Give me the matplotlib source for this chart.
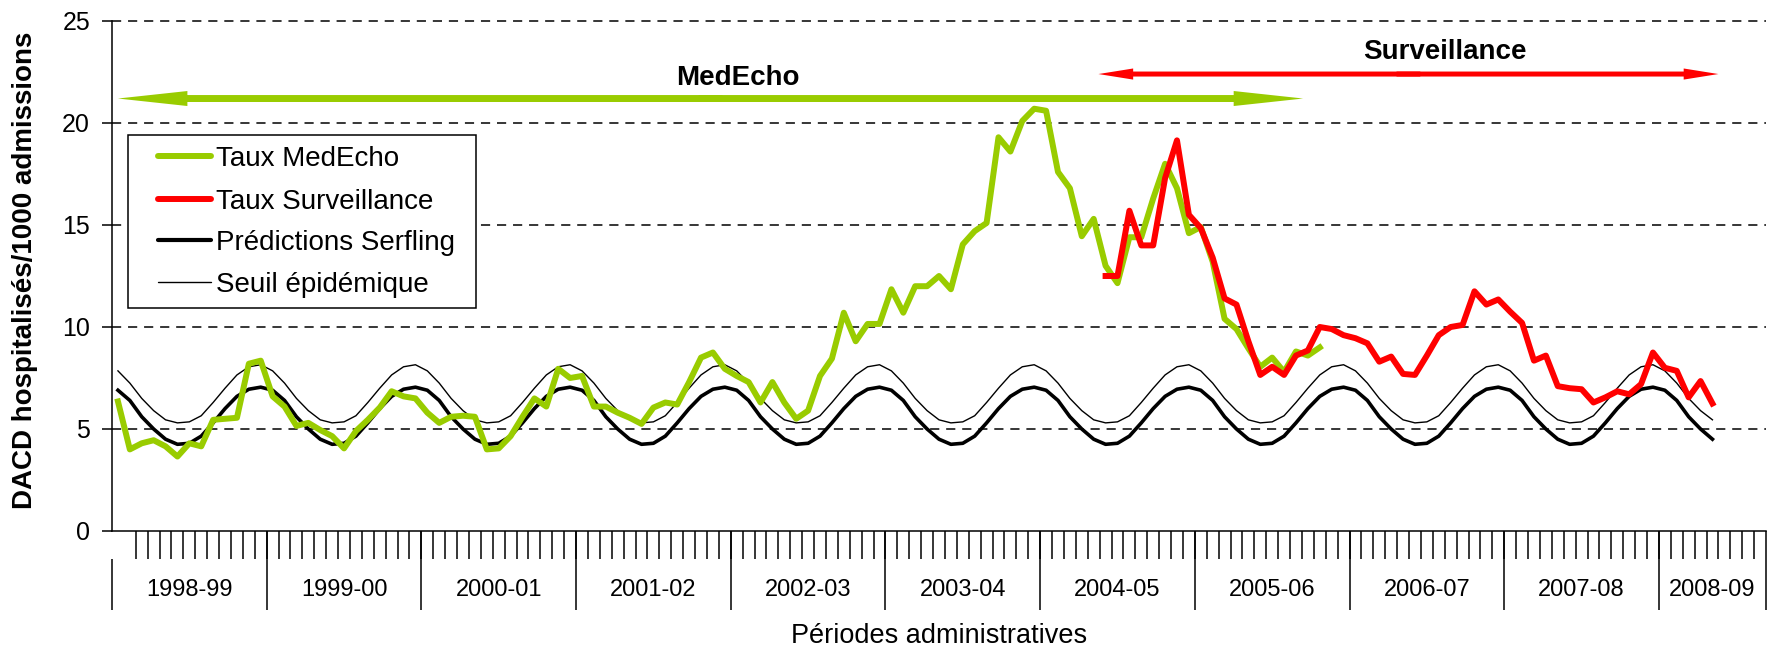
import numpy as np
import matplotlib
matplotlib.use('Agg')
import matplotlib.pyplot as plt
from matplotlib.patches import FancyArrowPatch, ArrowStyle, Rectangle
from matplotlib.lines import Line2D

plt.rcParams['font.family'] = ['Liberation Sans', 'DejaVu Sans']

# administrative years, 13 periods each (2008-09 partial: 9 periods on axis)
YEARS = ['1998-99', '1999-00', '2000-01', '2001-02', '2002-03', '2003-04',
         '2004-05', '2005-06', '2006-07', '2007-08', '2008-09']
PERIODS_PER_YEAR = 13
N_PERIODS = 139

# MedEcho rate, from period 0 (1998-99 P1)
MEDECHO_START = 0
medecho = [6.35, 4.0, 4.3, 4.45, 4.15, 3.65, 4.3, 4.15, 5.45, 5.5, 5.55, 8.2, 8.35,
           6.6, 6.1, 5.15, 5.3, 4.95, 4.65, 4.05, 4.9, 5.45, 6.05, 6.85, 6.6, 6.5,
           5.8, 5.3, 5.6, 5.65, 5.6, 4.0, 4.05, 4.65, 5.6, 6.5, 6.1, 7.95, 7.5,
           7.6, 6.1, 6.1, 5.8, 5.55, 5.25, 6.05, 6.3, 6.2, 7.3, 8.5, 8.75, 7.95,
           7.6, 7.3, 6.3, 7.3, 6.3, 5.5, 5.9, 7.6, 8.45, 10.7, 9.3, 10.15, 10.15,
           11.85, 10.7, 12.0, 12.0, 12.5, 11.85, 14.05, 14.7, 15.1,
           19.3, 18.6, 20.1, 20.7, 20.6, 17.6, 16.8, 14.45, 15.3, 13.0, 12.15,
           14.4, 14.4, 16.3, 18.0, 16.8, 14.6, 14.9, 13.2, 10.4, 9.9, 8.95, 8.05,
           8.5, 7.8, 8.8, 8.6, 9.0]

# Surveillance rate, from period 83 (2004-05 P6)
SURV_START = 83
surveillance = [12.5, 12.5, 15.7, 14.0, 14.0, 17.3, 19.15, 15.5, 14.85, 13.4,
                11.4, 11.1, 9.3, 7.65, 8.05, 7.65, 8.6, 8.85, 10.0, 9.9, 9.6,
                9.45, 9.2, 8.3, 8.55, 7.7, 7.65, 8.6, 9.6, 10.0, 10.1, 11.75,
                11.1, 11.35, 10.75, 10.2, 8.35, 8.6, 7.1, 7.0, 6.95, 6.3, 6.55,
                6.85, 6.7, 7.2, 8.75, 8.0, 7.85, 6.55, 7.35, 6.25]

# Serfling model and threshold: same seasonal pattern every year (P1..P13)
serfling_year = [6.9, 6.4, 5.6, 5.0, 4.5, 4.25, 4.3, 4.65, 5.3, 6.0, 6.6, 6.95, 7.05]
seuil_year = [7.85, 7.25, 6.5, 5.9, 5.45, 5.3, 5.35, 5.65, 6.3, 7.0, 7.65, 8.05, 8.15]
N_MODEL = 135
serfling = (serfling_year * len(YEARS))[:N_MODEL]
seuil = (seuil_year * len(YEARS))[:N_MODEL]

GREEN = '#99cc00'
RED = '#ff0000'

fig = plt.figure(figsize=(17.72, 6.5), dpi=100)
ax = fig.add_axes([112 / 1772, 1 - 531 / 650, 1654 / 1772, 510 / 650])

x_model = np.arange(len(serfling))
ax.plot(x_model, seuil, color='black', lw=1.0, zorder=3)
ax.plot(x_model, serfling, color='black', lw=2.6, zorder=3)
ax.plot(np.arange(len(medecho)) + MEDECHO_START, medecho, color=GREEN,
        lw=4.3, zorder=4)
ax.plot(np.arange(len(surveillance)) + SURV_START, surveillance, color=RED,
        lw=4.3, zorder=5)

ax.set_xlim(-0.5, N_PERIODS - 0.5)
ax.set_ylim(0, 25)

for v in [5, 10, 15, 20, 25]:
    ax.axhline(v, color='black', lw=1.1, ls=(0, (6, 4.5)), clip_on=False, zorder=1)

ax.spines[['top', 'right']].set_visible(False)
ax.spines[['left', 'bottom']].set_linewidth(1.1)

ax.set_yticks([0, 5, 10, 15, 20, 25])
ax.tick_params(axis='y', length=7.2, width=1.1, pad=8.6, labelsize=18)

# category axis: short ticks between periods, long lines between years
ax.set_xticks([])
ax.set_xticks(np.arange(1.5, N_PERIODS - 1, 1), minor=True)
ax.tick_params(axis='x', which='minor', length=20.2, width=1.1, direction='out')
trans = ax.get_xaxis_transform()
bounds = np.arange(PERIODS_PER_YEAR - 0.5, N_PERIODS - 1, PERIODS_PER_YEAR)
ax.vlines(bounds, -0.155, 0, transform=trans, color='black', lw=1.1, clip_on=False)
ax.vlines([N_PERIODS - 0.5], -0.155, 0, transform=trans, color='black', lw=1.1,
          clip_on=False)
ax.vlines([-0.5], -0.155, -0.055, transform=trans, color='black', lw=1.1,
          clip_on=False)
edges = list(np.arange(-0.5, N_PERIODS - 1, PERIODS_PER_YEAR)) + [N_PERIODS - 0.5]
for i, yr in enumerate(YEARS):
    ax.text((edges[i] + edges[i + 1]) / 2, -0.116, yr, transform=trans,
            ha='center', va='center', fontsize=17)

ax.set_xlabel('Périodes administratives', fontsize=19.5, va='center')
ax.xaxis.set_label_coords(0.5, -0.206)
ax.set_ylabel('DACD hospitalisés/1000 admissions', fontsize=20,
              fontweight='bold', va='center')
ax.yaxis.set_label_coords(-0.0526, 0.512)


def span_arrow(x0, x1, y, color, head_len, head_w, tail_w):
    style = ArrowStyle('simple', head_length=head_len, head_width=head_w,
                       tail_width=tail_w)
    xm = (x0 + x1) / 2
    for start, end in [(xm + 1, x0), (xm - 1, x1)]:
        ax.add_patch(FancyArrowPatch((start, y), (end, y), arrowstyle=style,
                                     mutation_scale=1, color=color, lw=0,
                                     shrinkA=0, shrinkB=0, clip_on=False,
                                     zorder=6))


span_arrow(0.0, 99.6, 21.2, GREEN, 50, 10.8, 5.0)
span_arrow(82.4, 134.5, 22.4, RED, 25, 8.0, 3.6)
ax.text(52.1, 22.2, 'MedEcho', ha='center', va='center', fontsize=20,
        fontweight='bold')
ax.text(111.5, 23.5, 'Surveillance', ha='center', va='center', fontsize=20,
        fontweight='bold')

# legend box drawn by hand to match the layout
tax = ax.transAxes
ax.add_patch(Rectangle((0.0097, 0.4373), 0.2104, 0.3392, transform=tax,
                       facecolor='white', edgecolor='black', lw=1.1, zorder=7))
rows = [(0.735, GREEN, 4.3, 'Taux MedEcho'),
        (0.651, RED, 4.3, 'Taux Surveillance'),
        (0.571, 'black', 3.0, 'Prédictions Serfling'),
        (0.488, 'black', 1.0, 'Seuil épidémique')]
for y, color, lw, label in rows:
    ax.add_line(Line2D([0.0278, 0.0598], [y, y], transform=tax, color=color,
                       lw=lw, solid_capstyle='round', zorder=8))
    ax.text(0.0629, y - 0.0196, label, transform=tax, va='baseline',
            fontsize=20, zorder=8)

fig.savefig('out.png', dpi=100)
